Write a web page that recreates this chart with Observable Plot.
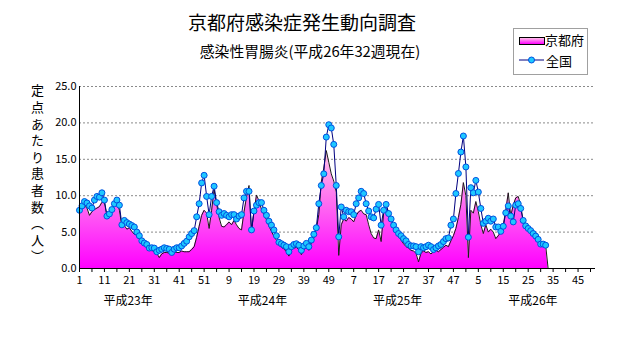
<!DOCTYPE html>
<html><head><meta charset="utf-8">
<script src="https://cdn.jsdelivr.net/npm/d3@7"></script>
<script src="https://cdn.jsdelivr.net/npm/@observablehq/plot@0.6"></script>
<style>
html,body{margin:0;padding:0;background:#fff;}
#wrap{position:relative;width:631px;height:347px;font-family:'Noto Sans CJK JP',sans-serif;color:#000;overflow:hidden;background:#fff}
.abs{position:absolute;white-space:nowrap;line-height:1}
#legend{position:absolute;left:513px;top:28px;width:75px;height:47px;border:1px solid #a0a0a0;box-sizing:border-box;background:#fff}
</style></head><body>
<div id="wrap">
  <div id="chart"></div>
  <div class="abs" style="left:302px;top:12px;font-size:19px;transform:translateX(-50%)">京都府感染症発生動向調査</div>
  <div class="abs" style="left:310px;top:44px;font-size:14.8px;transform:translateX(-50%)">感染性胃腸炎(平成26年32週現在)</div>
  <div class="abs" style="left:31px;top:84px;font-size:13px;writing-mode:vertical-rl;letter-spacing:3.6px">定点あたり患者数（人）</div>
  <div id="legend">
    <div class="abs" style="left:5px;top:8px;width:24px;height:6px;border:1px solid #000;background:linear-gradient(to top,#ff00ff,#ffc0e8)"></div>
    <div class="abs" style="left:31px;top:4px;font-size:13px">京都府</div>
    <svg class="abs" style="left:4px;top:26px" width="27" height="10"><line x1="1" y1="5" x2="26" y2="5" stroke="#000080"/><circle cx="13.5" cy="5" r="3" fill="#1ec8ff" stroke="#0050e0"/></svg>
    <div class="abs" style="left:32px;top:25px;font-size:13px">全国</div>
  </div>
</div>
<script>
// 京都府 (定点あたり患者数) by year, week 1..
const kyoto2011 = [7.6, 8.3, 8.6, 8.3, 7.3, 7.8, 8.1, 8.3, 8.5, 9.1, 9.0, 7.3, 7.4, 8.1, 8.7, 9.0, 8.0, 5.8, 5.9, 5.4, 5.6, 5.1, 4.7, 4.6, 4.1, 3.8, 3.3, 2.8, 2.7, 2.5, 2.3, 2.1, 1.5, 2.0, 2.2, 2.2, 2.1, 2.1, 2.3, 2.2, 2.2, 2.4, 2.3, 2.3, 2.3, 2.6, 3.0, 4.3, 5.8, 7.3, 8.0, 7.6];
const kyoto2012 = [5.5, 8.0, 10.8, 8.8, 7.0, 5.8, 5.7, 6.0, 6.4, 6.0, 6.6, 6.0, 5.5, 5.3, 7.8, 9.8, 11.4, 5.1, 7.8, 10.1, 9.3, 8.1, 7.4, 6.7, 5.8, 5.1, 4.4, 3.9, 3.2, 2.9, 2.7, 2.3, 1.7, 2.6, 2.8, 2.9, 2.6, 1.9, 2.6, 2.9, 2.5, 3.5, 4.2, 5.4, 7.4, 11.9, 13.8, 16.2, 14.6, 13.0, 12.0, 10.5];
const kyoto2013 = [1.8, 6.0, 6.8, 6.5, 7.0, 6.8, 6.4, 7.3, 7.8, 8.0, 7.5, 7.4, 6.0, 4.8, 4.2, 4.1, 5.3, 3.7, 7.6, 8.6, 7.8, 6.6, 5.9, 5.0, 4.4, 3.9, 3.4, 3.0, 2.8, 2.5, 2.4, 2.1, 0.9, 2.1, 2.4, 2.2, 2.3, 2.0, 2.3, 2.5, 2.3, 2.6, 2.9, 3.2, 3.0, 3.8, 4.5, 5.5, 7.0, 8.8, 11.8, 10.0];
const kyoto2014 = [1.5, 8.0, 7.6, 9.2, 7.8, 6.0, 4.8, 6.0, 5.0, 5.4, 5.0, 4.1, 4.5, 5.0, 5.9, 8.0, 10.4, 7.2, 8.7, 9.7, 9.9, 8.7, 6.4, 5.8, 5.2, 4.8, 4.5, 4.0, 3.7, 3.4, 3.2, 3.2, 0];
// 全国
const zenkoku2011 = [8.0, 8.6, 9.2, 9.0, 8.6, 8.3, 9.4, 9.9, 9.8, 10.4, 9.4, 7.2, 7.5, 8.1, 8.9, 9.4, 8.7, 6.0, 6.6, 6.3, 6.1, 5.9, 5.7, 5.0, 4.5, 3.8, 3.5, 3.3, 2.8, 2.85, 2.8, 2.3, 2.5, 2.65, 2.85, 2.75, 2.65, 2.2, 2.65, 2.85, 2.85, 3.1, 3.45, 3.75, 4.35, 4.8, 5.2, 7.1, 8.9, 11.75, 12.8, 9.9];
const zenkoku2012 = [7.4, 9.9, 11.3, 9.05, 7.8, 7.3, 7.55, 7.3, 7.1, 7.4, 7.4, 6.8, 7.2, 7.4, 9.7, 10.6, 10.6, 5.3, 7.9, 8.7, 9.05, 9.05, 8.0, 7.3, 6.5, 5.95, 5.3, 4.5, 3.6, 3.4, 3.2, 3.0, 2.3, 3.0, 3.3, 3.4, 3.2, 2.5, 3.1, 3.45, 3.0, 3.9, 4.7, 5.6, 8.9, 11.4, 13.0, 18.05, 19.75, 19.3, 17.05, 11.4];
const zenkoku2013 = [4.35, 8.45, 7.1, 8.0, 7.8, 7.8, 7.4, 8.9, 9.7, 10.6, 10.3, 8.9, 7.9, 7.1, 6.95, 8.15, 8.8, 5.95, 8.0, 8.8, 7.55, 6.8, 5.95, 5.3, 4.8, 4.5, 4.1, 3.8, 3.3, 3.1, 3.1, 3.0, 2.3, 3.0, 2.85, 3.0, 3.2, 3.0, 2.6, 2.85, 3.1, 3.3, 3.7, 4.1, 4.2, 5.95, 6.8, 10.3, 13.05, 16.0, 18.2, 13.95];
const zenkoku2014 = [4.3, 11.1, 10.4, 12.1, 10.5, 8.25, 6.2, 6.5, 6.9, 6.5, 6.8, 5.7, 5.7, 5.1, 5.8, 7.65, 8.6, 7.2, 6.4, 8.7, 8.9, 8.25, 6.6, 5.85, 5.5, 5.2, 4.8, 4.45, 4.0, 3.35, 3.35, 3.2];

const weeksPerYear = [52, 52, 52, 52];
const yTicks = [0, 5, 10, 15, 20, 25];
const xLabelPos = [1, 11, 21, 31, 41, 51, 61, 71, 81, 91, 101, 111, 121, 131, 141, 151, 161, 171, 181, 191, 201];
const xTickLabels = ["1","11","21","31","41","51","9","19","29","39","49","7","17","27","37","47","5","15","25","35","45"];
const xMinorTicks = d3.range(1, 208, 5);
const yearLabels = ["平成23年", "平成24年", "平成25年", "平成26年"];
const yearLabelPos = [20.5, 74.4, 128.6, 182.9];

function toRows(years) {
  const rows = [];
  let offset = 0;
  years.forEach((arr, k) => {
    arr.forEach((v, i) => rows.push({idx: offset + i + 1, v}));
    offset += weeksPerYear[k];
  });
  return rows;
}
const kyotoRows = toRows([kyoto2011, kyoto2012, kyoto2013, kyoto2014]);
const zenRows = toRows([zenkoku2011, zenkoku2012, zenkoku2013, zenkoku2014]);
const kyotoMax = d3.max(kyotoRows, d => d.v);

const xLabelMap = new Map(xLabelPos.map((p, i) => [p, xTickLabels[i]]));
const yearMap = new Map(yearLabelPos.map((p, i) => [p, yearLabels[i]]));

const gradMark = (index, scales) => {
  const ns = "http://www.w3.org/2000/svg";
  const defs = document.createElementNS(ns, "defs");
  const g = document.createElementNS(ns, "linearGradient");
  g.setAttribute("id", "kgrad");
  g.setAttribute("gradientUnits", "userSpaceOnUse");
  g.setAttribute("x1", 0); g.setAttribute("x2", 0);
  g.setAttribute("y1", scales.y(0)); g.setAttribute("y2", scales.y(kyotoMax));
  [["0", "#ff00ff"], ["1", "#ffc4e6"]].forEach(([o, c]) => {
    const s = document.createElementNS(ns, "stop");
    s.setAttribute("offset", o); s.setAttribute("stop-color", c);
    g.appendChild(s);
  });
  defs.appendChild(g);
  return defs;
};

const chart = Plot.plot({
  width: 631, height: 347,
  marginLeft: 79, marginRight: 36, marginTop: 86, marginBottom: 79,
  style: {fontFamily: "'Noto Sans CJK JP', sans-serif", fontSize: "11px", background: "transparent", color: "#000", overflow: "visible"},
  x: {domain: [1, 208], axis: null, label: null},
  y: {domain: [0, 25], axis: null, label: null},
  marks: [
    gradMark,
    Plot.gridY(yTicks.slice(1), {stroke: "#8a8a8a", strokeOpacity: 1, strokeDasharray: "2,2"}),
    Plot.areaY(kyotoRows, {x: "idx", y: "v", fill: "url(#kgrad)"}),
    Plot.lineY(kyotoRows, {x: "idx", y: "v", stroke: "#1a1a1a", strokeWidth: 1}),
    Plot.lineY(zenRows, {x: "idx", y: "v", stroke: "#000080", strokeWidth: 1}),
    Plot.dot(zenRows, {x: "idx", y: "v", r: 3, fill: "#1ec8ff", stroke: "#0050e0", strokeWidth: 1}),
    Plot.ruleX([1], {stroke: "#000"}),
    Plot.ruleY([0], {stroke: "#000"}),
    Plot.axisY(yTicks, {tickSize: 0, tickPadding: 3, tickFormat: d => d.toFixed(1), label: null}),
    Plot.axisX(xMinorTicks, {tickSize: 4, fill: "none", stroke: "#000", label: null}),
    Plot.axisX(xLabelPos, {tickSize: 0, tickPadding: 8, tickFormat: d => xLabelMap.get(d), label: null}),
    Plot.axisX(yearLabelPos, {tickSize: 0, tickPadding: 28, fontSize: 12, tickFormat: d => yearMap.get(d), label: null})
  ]
});
document.getElementById("chart").appendChild(chart);
</script>
</body></html>
